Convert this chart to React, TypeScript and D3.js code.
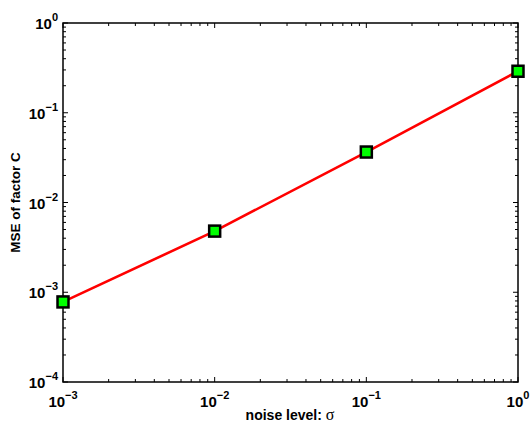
import React from "react";
import * as d3 from "d3";

const noiseLevels = [1e-3, 1e-2, 1e-1, 1];
const mseValues = [7.8e-4, 4.8e-3, 0.0365, 0.29];
const xTickExps = [-3, -2, -1, 0];
const yTickExps = [-4, -3, -2, -1, 0];

const W = 530, H = 425;
const L = 63, R = 518, T = 23, B = 382;

export default function App() {
  const x = d3.scaleLog().domain([1e-3, 1]).range([L, R]);
  const y = d3.scaleLog().domain([1e-4, 1]).range([B, T]);
  const line = d3.line<number>().x((_, i) => x(noiseLevels[i])).y((d) => y(d));

  const xMinor: number[] = [];
  for (let e = -3; e < 0; e++) for (let k = 2; k <= 9; k++) xMinor.push(k * Math.pow(10, e));
  const yMinor: number[] = [];
  for (let e = -4; e < 0; e++) for (let k = 2; k <= 9; k++) yMinor.push(k * Math.pow(10, e));

  const font = "'Liberation Sans', Arial, Helvetica, sans-serif";
  const maj = 5, mnr = 3;
  return (
    <svg width={W} height={H} style={{ position: "absolute", left: 0, top: 0, background: "#fff" }}>
      <rect x={0} y={0} width={W} height={H} fill="#fff" />
      <g stroke="#000" strokeWidth={1}>
        {xTickExps.map((e) => {
          const px = x(Math.pow(10, e));
          return (
            <g key={"xt" + e}>
              <line x1={px} x2={px} y1={B} y2={B - maj} />
              <line x1={px} x2={px} y1={T} y2={T + maj} />
            </g>
          );
        })}
        {xMinor.map((v, i) => {
          const px = x(v);
          return (
            <g key={"xm" + i}>
              <line x1={px} x2={px} y1={B} y2={B - mnr} />
              <line x1={px} x2={px} y1={T} y2={T + mnr} />
            </g>
          );
        })}
        {yTickExps.map((e) => {
          const py = y(Math.pow(10, e));
          return (
            <g key={"yt" + e}>
              <line x1={L} x2={L + maj} y1={py} y2={py} />
              <line x1={R} x2={R - maj} y1={py} y2={py} />
            </g>
          );
        })}
        {yMinor.map((v, i) => {
          const py = y(v);
          return (
            <g key={"ym" + i}>
              <line x1={L} x2={L + mnr} y1={py} y2={py} />
              <line x1={R} x2={R - mnr} y1={py} y2={py} />
            </g>
          );
        })}
      </g>
      <rect x={L} y={T} width={R - L} height={B - T} fill="none" stroke="#000" strokeWidth={1.5} />
      <path d={line(mseValues) || ""} fill="none" stroke="#ff0000" strokeWidth={2.6} />
      {mseValues.map((v, i) => (
        <rect key={"m" + i} x={x(noiseLevels[i]) - 5.5} y={y(v) - 5.5} width={11} height={11}
          fill="#00ff00" stroke="#000" strokeWidth={2.5} />
      ))}
      <g fontFamily={font} fontWeight="bold" fill="#000">
        {xTickExps.map((e) => (
          <text key={"xl" + e} x={x(Math.pow(10, e))} y={407} textAnchor="middle" fontSize={15}>
            10<tspan dy={-8} fontSize={11}>{e < 0 ? "\u2212" + Math.abs(e) : e}</tspan>
          </text>
        ))}
        {yTickExps.map((e) => (
          <text key={"yl" + e} x={58} y={y(Math.pow(10, e)) + 6} textAnchor="end" fontSize={15}>
            10<tspan dy={-8} fontSize={11}>{e < 0 ? "\u2212" + Math.abs(e) : e}</tspan>
          </text>
        ))}
        <text x={290} y={420} textAnchor="middle" fontSize={14}>
          noise level: <tspan fontFamily="'Liberation Serif', 'Times New Roman', serif" fontWeight="normal" fontSize={16}>σ</tspan>
        </text>
        <text transform={`translate(20,${(T + B) / 2}) rotate(-90)`} textAnchor="middle" fontSize={13.5}>
          MSE of factor C
        </text>
      </g>
    </svg>
  );
}
